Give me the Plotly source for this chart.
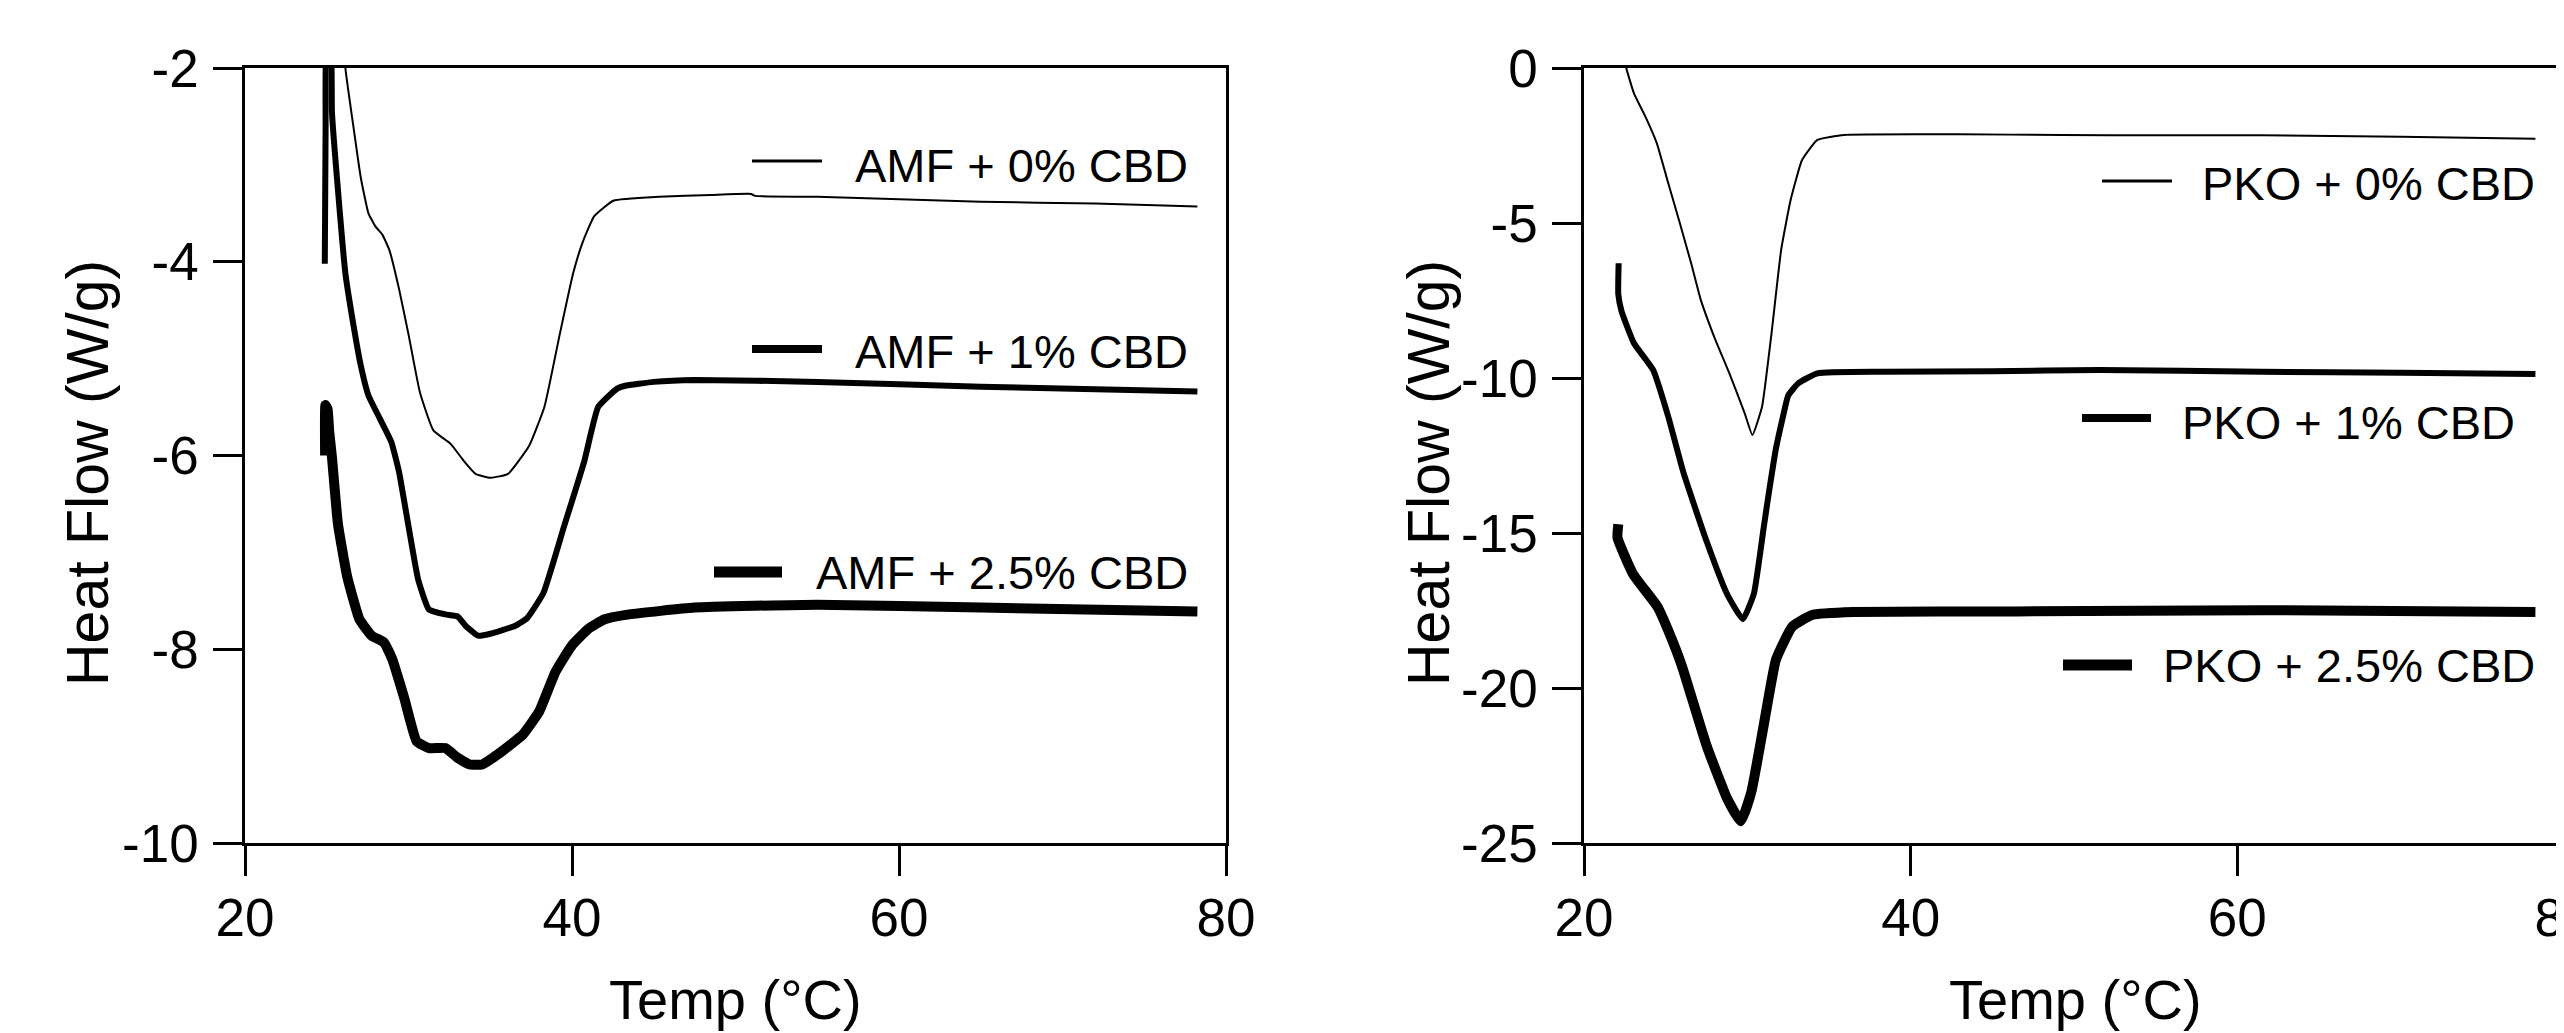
import plotly.graph_objects as go

# page body has an 8 px margin: the figure covers reference pixels [8, 2564] x [8, 1033]
OFF = 8
W, H = 2564 - OFF, 1033 - OFF

# ---------------- DATA ----------------
amf_0_temp = [25.95, 26.14, 26.61, 27.08, 27.55, 28.0, 28.4, 28.83, 29.42, 30.0, 30.7, 31.52, 32.58, 33.4, 34.1,
              35.03, 36.09, 37.38, 38.31, 39.25, 40.07, 40.65, 41.36, 42.53, 45.33, 48.5, 50.95, 51.19,
              55.0, 65.0, 72.0, 78.25]
amf_0_flow = [-1.2, -2.0, -2.58, -3.13, -3.5, -3.64, -3.72, -3.88, -4.28, -4.75, -5.35, -5.74, -5.88, -6.06, -6.19,
              -6.23, -6.19, -5.9, -5.5, -4.75, -4.12, -3.8, -3.53, -3.37, -3.33, -3.31, -3.30, -3.32,
              -3.33, -3.38, -3.40, -3.43]

amf_1_temp = [24.88, 24.93, 25.0, 25.22, 25.32, 25.68, 26.14, 26.61, 27.08, 27.55, 28.25, 28.95, 29.42, 30.0,
              30.59, 31.25, 32.25, 33.0, 33.5, 34.25, 35.0, 36.5, 37.25, 38.25, 39.5, 40.75, 41.6, 42.76,
              43.25, 45.0, 47.5, 55.0, 65.0, 78.25]
amf_1_flow = [-4.02, -2.6, -1.7, -1.7, -2.46, -3.25, -4.12, -4.63, -5.07, -5.38, -5.62, -5.86, -6.17, -6.73,
              -7.28, -7.59, -7.64, -7.66, -7.76, -7.86, -7.84, -7.76, -7.68, -7.42, -6.74, -6.06, -5.5, -5.31,
              -5.28, -5.24, -5.22, -5.24, -5.29, -5.34]

amf_25_temp = [24.9, 24.92, 25.05, 25.15, 25.32, 25.68, 26.25, 27.0, 27.75, 28.5, 29.0, 29.75, 30.5, 31.25,
               32.25, 33.0, 33.75, 34.5, 35.5, 37.0, 38.0, 39.0, 40.0, 41.0, 42.0, 43.5, 47.5, 55.0, 65.0, 78.25]
amf_25_flow = [-6.0, -5.48, -5.52, -5.75, -6.02, -6.7, -7.25, -7.69, -7.86, -7.93, -8.1, -8.51, -8.95, -9.02,
               -9.02, -9.12, -9.19, -9.19, -9.08, -8.88, -8.64, -8.23, -7.96, -7.79, -7.69, -7.64, -7.57,
               -7.54, -7.57, -7.61]

pko_0_temp = [22.45, 22.59, 23.06, 23.76, 24.46, 25.16, 25.87, 26.56, 27.15, 27.97, 28.9, 29.84, 30.31, 30.9,
              31.48, 32.07, 32.65, 33.35, 34.29, 35.93, 42.95, 49.27, 55.0, 61.5, 70.0, 78.25]
pko_0_flow = [0.5, 0.0, -0.82, -1.57, -2.43, -3.72, -5.01, -6.3, -7.48, -8.67, -9.85, -11.14, -11.84, -10.93,
              -8.56, -5.87, -4.26, -2.97, -2.32, -2.16, -2.14, -2.16, -2.17, -2.17, -2.22, -2.28]

pko_1_temp = [22.12, 22.1, 22.3, 23.06, 24.23, 25.16, 26.1, 27.5, 28.75, 29.72, 30.4, 31.0, 31.25, 31.75,
              32.18, 32.5, 33.12, 34.29, 38.27, 45.0, 51.56, 61.5, 70.0, 78.25]
pko_1_flow = [-6.3, -7.3, -7.85, -8.88, -9.74, -11.25, -13.07, -15.26, -16.96, -17.78, -16.96, -14.83, -13.94,
              -12.28, -11.25, -10.57, -10.17, -9.85, -9.8, -9.78, -9.74, -9.8, -9.83, -9.87]

pko_25_temp = [22.1, 22.05, 23.0, 24.5, 25.2, 26.0, 27.5, 28.75, 29.6, 30.25, 31.0, 31.75, 32.75, 34.0, 36.5,
               46.5, 61.5, 78.25]
pko_25_flow = [-14.72, -15.15, -16.32, -17.38, -18.2, -19.3, -21.85, -23.55, -24.3, -23.34, -21.21, -19.09,
               -18.02, -17.64, -17.55, -17.53, -17.49, -17.55]

x_ticks = [20, 40, 60, 80]
x_tick_labels = ["20", "40", "60", "80"]
amf_y_ticks = [-10, -8, -6, -4, -2]
amf_y_labels = ["-10", "-8", "-6", "-4", "-2"]
pko_y_ticks = [-25, -20, -15, -10, -5, 0]
pko_y_labels = ["-25", "-20", "-15", "-10", "-5", "0"]

amf_labels = ["AMF + 0% CBD", "AMF + 1% CBD", "AMF + 2.5% CBD"]
pko_labels = ["PKO + 0% CBD", "PKO + 1% CBD", "PKO + 2.5% CBD"]
x_title = "Temp (°C)"
y_title = "Heat Flow (W/g)"

# ---------------- FIGURE ----------------
def px(x):
    return (x - OFF) / W


def py(y):
    return 1 - (y - OFF) / H


widths = [2, 6, 10]
legend_widths = [3, 8, 11]

fig = go.Figure()
for t, f, w in zip([amf_0_temp, amf_1_temp, amf_25_temp], [amf_0_flow, amf_1_flow, amf_25_flow], widths):
    fig.add_trace(go.Scatter(x=t, y=f, mode="lines", line=dict(color="black", width=w, shape="spline",
                                                               smoothing=0.4),
                             xaxis="x", yaxis="y", showlegend=False))
for t, f, w in zip([pko_0_temp, pko_1_temp, pko_25_temp], [pko_0_flow, pko_1_flow, pko_25_flow], widths):
    fig.add_trace(go.Scatter(x=t, y=f, mode="lines", line=dict(color="black", width=w, shape="spline",
                                                               smoothing=0.4),
                             xaxis="x2", yaxis="y2", showlegend=False))

REG = "Liberation Sans, Arial, sans-serif"

xax = dict(range=[20, 80], tickvals=x_ticks, ticktext=x_tick_labels, showline=True, linewidth=3,
           linecolor="black", mirror=True, automargin=False, ticklabeloverflow="allow",
           ticks="outside", ticklen=30, tickwidth=2.5, tickcolor="black", showgrid=False, zeroline=False,
           tickfont=dict(family=REG, size=53, color="black"), ticklabelstandoff=-4)
yax = dict(showline=True, linewidth=2.5, linecolor="black", mirror=True, ticks="outside", ticklen=29,
           tickwidth=3, tickcolor="black", showgrid=False, zeroline=False, automargin=False,
           tickfont=dict(family=REG, size=53, color="black"), ticklabelstandoff=4)

top_px, bot_px = 68, 843
fig.update_layout(
    width=W, height=H, margin=dict(l=0, r=0, t=0, b=0, autoexpand=False),
    paper_bgcolor="white", plot_bgcolor="white",
    xaxis=dict(xax, domain=[px(245), px(1226)], anchor="y"),
    yaxis=dict(yax, domain=[py(bot_px), py(top_px)], range=[-10, -2], tickvals=amf_y_ticks,
               ticktext=amf_y_labels, anchor="x"),
    xaxis2=dict(xax, domain=[px(1584), min(1.0, px(2565))], anchor="y2"),
    yaxis2=dict(yax, domain=[py(bot_px), py(top_px)], range=[-25, 0], tickvals=pko_y_ticks,
                ticktext=pko_y_labels, anchor="x2"),
)

annotations = []
shapes = []
# axis titles
for cx in [735, 2075]:
    annotations.append(dict(text=x_title, x=px(cx), y=py(966), xref="paper", yref="paper", xanchor="center",
                            yanchor="top", showarrow=False, font=dict(family=REG, size=56, color="black")))
for cx in [88, 1429]:
    annotations.append(dict(text=y_title, x=px(cx), y=py(473), xref="paper", yref="paper", xanchor="center",
                            yanchor="middle", textangle=-90, showarrow=False,
                            font=dict(family=REG, size=59, color="black")))

# legends (text right aligned, symbol to the left)
amf_leg = [(1190, 165, 752, 822, 161), (1190, 351, 752, 822, 349), (1190, 572, 714, 782, 572)]
pko_leg = [(2537, 183, 2102, 2172, 181), (2517, 422, 2082, 2151, 418), (2537, 665, 2063, 2132, 665)]
for labels, legs in [(amf_labels, amf_leg), (pko_labels, pko_leg)]:
    for lab, (tx, ty, sx0, sx1, sy), lw in zip(labels, legs, legend_widths):
        annotations.append(dict(text=lab, x=px(tx), y=py(ty), xref="paper", yref="paper", xanchor="right",
                                yanchor="middle", showarrow=False,
                                font=dict(family=REG, size=47, color="black")))
        shapes.append(dict(type="line", xref="paper", yref="paper", x0=px(sx0), x1=px(sx1), y0=py(sy),
                           y1=py(sy), line=dict(color="black", width=lw)))

fig.update_layout(annotations=annotations, shapes=shapes)
fig.write_html("out.html")
